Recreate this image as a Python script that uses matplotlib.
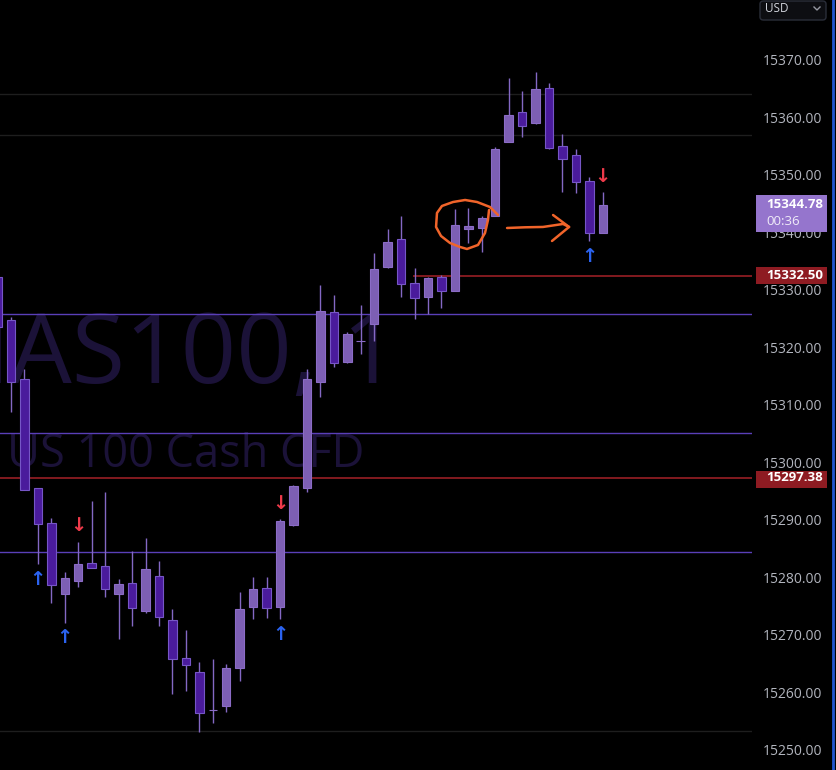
import numpy as np
import matplotlib
matplotlib.use("Agg")
import matplotlib.pyplot as plt
from matplotlib.patches import Rectangle, FancyBboxPatch
from matplotlib.lines import Line2D
import matplotlib.transforms as mtransforms

# 1-minute candles
opens = [15332.3, 15324.8, 15314.5, 15295.6, 15289.5, 15277.1, 15279.4, 15282.5, 15282.0, 15277.1,
         15279.0, 15274.2, 15280.3, 15272.6, 15266.0, 15263.6, 15256.9, 15257.7, 15264.3, 15274.9,
         15278.2, 15274.9, 15289.1, 15295.6, 15314.0, 15326.2, 15317.5, 15321.1, 15324.1, 15334.0,
         15338.9, 15331.2, 15328.8, 15332.3, 15329.8, 15340.6, 15340.8, 15342.9, 15355.7, 15361.0,
         15359.0, 15365.1, 15355.0, 15353.5, 15349.0, 15339.9]
highs = [15334.0, 15325.3, 15316.3, 15295.6, 15290.3, 15281.0, 15286.2, 15293.3, 15294.9, 15279.7,
         15284.6, 15286.9, 15282.9, 15274.5, 15270.9, 15265.3, 15265.8, 15265.0, 15277.5, 15280.1,
         15280.1, 15290.2, 15296.1, 15316.3, 15330.9, 15329.1, 15322.7, 15327.4, 15336.4, 15340.6,
         15342.9, 15333.8, 15332.3, 15332.6, 15344.1, 15344.3, 15342.9, 15354.9, 15366.9, 15364.6,
         15367.9, 15366.0, 15357.1, 15354.5, 15349.7, 15347.0]
lows = [15322.0, 15308.8, 15295.2, 15282.3, 15275.6, 15272.1, 15278.3, 15281.7, 15276.6, 15269.3,
        15271.6, 15273.8, 15271.6, 15259.7, 15260.3, 15253.1, 15254.7, 15256.6, 15262.0, 15272.8,
        15273.0, 15272.8, 15289.0, 15294.9, 15311.4, 15316.6, 15317.3, 15318.9, 15321.1, 15333.8,
        15328.8, 15325.0, 15325.8, 15326.9, 15329.8, 15338.2, 15336.6, 15342.9, 15355.7, 15356.6,
        15358.9, 15354.5, 15347.0, 15346.9, 15338.5, 15339.9]
closes = [15323.6, 15314.0, 15295.2, 15289.3, 15278.7, 15279.9, 15282.3, 15281.7, 15278.0, 15278.9,
          15274.7, 15281.5, 15273.1, 15265.8, 15264.8, 15256.4, 15256.9, 15264.3, 15274.5, 15278.0,
          15274.7, 15289.8, 15295.9, 15314.5, 15326.3, 15317.3, 15322.3, 15321.1, 15333.7, 15338.3,
          15331.0, 15328.6, 15332.1, 15329.8, 15341.3, 15341.1, 15342.5, 15354.5, 15360.4, 15358.5,
          15365.0, 15354.7, 15352.8, 15348.8, 15339.9, 15344.78]

# signal arrows (candle index, price)
buy_idx = [3, 5, 21, 44]
buy_y = [15279.7, 15269.5, 15270.0, 15335.9]
sell_idx = [6, 21, 45]
sell_y = [15289.0, 15292.8, 15349.8]

# drawn levels
purple_levels = [15325.8, 15305.1, 15284.4]
red_levels = [15297.38]
red_ray = 15332.50
red_ray_start = 30.9
grey_levels = [15364.1, 15357.0, 15253.3]

y_ticks = np.arange(15250, 15371, 10)
last_price = "15344.78"
countdown = "00:36"

# hand drawn loop + arrow (candle index, price)
loop_x = [37.21, 36.61, 35.65, 34.76, 33.86, 33.04, 32.67, 32.60, 32.97, 33.64, 34.38, 34.90, 35.72, 36.24, 36.46, 36.54]
loop_y = [15343.04, 15344.43, 15345.30, 15345.65, 15345.30, 15344.61, 15343.39, 15340.96, 15339.39,
          15338.17, 15337.48, 15337.13, 15337.83, 15339.91, 15342.17, 15343.91]
arrow_x = [37.88, 39.2, 40.55, 42.04, 42.49]
arrow_y = [15340.78, 15340.9, 15340.96, 15341.48, 15340.96]
head_x = [41.30, 42.49, 41.22]
head_y = [15343.04, 15340.96, 15338.52]

BG = "#000000"
BULL = "#7d5fb4"
BULL_EDGE = "#8b6cc6"
BEAR = "#4a1b9c"
BEAR_EDGE = "#7656c6"
WICK = "#8468c4"
MARK = "#1b1238"

W, H = 836, 770
XL = (0.182, 56.09)
fig = plt.figure(figsize=(W / 100, H / 100), dpi=100, facecolor=BG)
ax = fig.add_axes([0, 0, 752 / W, 1], facecolor=BG)
ax.set_xlim(*XL)
ax.set_ylim(15246.52, 15380.43)

# watermark
ax.text(398 / 752 * (XL[1] - XL[0]) + XL[0], 15370 - (383 - 60) / 5.75, "NAS100, 1",
        ha="right", va="baseline", fontsize=70, family="Open Sans", color=MARK, zorder=0)
ax.text(7 / 752 * (XL[1] - XL[0]) + XL[0], 15370 - (467 - 60) / 5.75, "US 100 Cash CFD",
        ha="left", va="baseline", fontsize=32.5, family="Open Sans", color=MARK, zorder=0)

for lv in grey_levels:
    ax.axhline(lv, color="#1e1e1e", lw=1, zorder=1)
for lv in purple_levels:
    ax.axhline(lv, color="#5a3fb8", lw=1, zorder=1)
for lv in red_levels:
    ax.axhline(lv, color="#8c1c22", lw=1.3, zorder=1)
ax.hlines(red_ray, red_ray_start, 60, color="#8c1c22", lw=1.3, zorder=1)

o = np.array(opens); c = np.array(closes); hi = np.array(highs); lo = np.array(lows)
idx = np.arange(len(o))
up = c >= o
ax.vlines(idx, lo, hi, color=WICK, lw=1, zorder=2)
bottom = np.minimum(o, c)
height = np.abs(c - o)
ax.bar(idx[up], height[up], bottom=bottom[up], width=0.63, color=BULL, edgecolor=BULL_EDGE, lw=0.8, zorder=3)
ax.bar(idx[~up], height[~up], bottom=bottom[~up], width=0.63, color=BEAR, edgecolor=BEAR_EDGE, lw=0.8, zorder=3)

for x, y in zip(buy_idx, buy_y):
    ax.text(x, y, "↑", ha="center", va="center", fontsize=14, fontweight="bold",
            color="#2b63f0", family="DejaVu Sans", zorder=4)
for x, y in zip(sell_idx, sell_y):
    ax.text(x, y, "↓", ha="center", va="center", fontsize=14, fontweight="bold",
            color="#ee3a4a", family="DejaVu Sans", zorder=4)

ax.plot(loop_x, loop_y, color="#f0642a", lw=1.8, solid_capstyle="round", zorder=5)
ax.plot(arrow_x, arrow_y, color="#f0642a", lw=1.8, solid_capstyle="round", zorder=5)
ax.plot(head_x, head_y, color="#f0642a", lw=1.8, solid_capstyle="round", solid_joinstyle="round", zorder=5)

# right price scale
ax.yaxis.tick_right()
ax.set_yticks(y_ticks)
ax.set_yticklabels([f"{v:.2f}" for v in y_ticks])
ax.tick_params(axis="y", length=0, pad=8, labelsize=10, labelcolor="#b2b5be")
for lab in ax.get_yticklabels():
    lab.set_family("Open Sans")
ax.set_xticks([])
for s in ax.spines.values():
    s.set_visible(False)

tr = mtransforms.blended_transform_factory(ax.transAxes, ax.transData)
bx0, bx1 = 756 / 752, 827 / 752
ppx = 1 / 5.75  # price per pixel


def price_box(top_px, bot_px, color):
    y0 = 15370 - (bot_px - 60) * ppx
    y1 = 15370 - (top_px - 60) * ppx
    r = Rectangle((bx0, y0), bx1 - bx0, y1 - y0, transform=tr, facecolor=color,
                  edgecolor="none", clip_on=False, zorder=6)
    ax.add_patch(r)


def box_text(y, s, weight="bold", color="white"):
    ax.text(766 / 752, y, s, transform=tr, ha="left", va="center", fontsize=9.5,
            fontweight=weight, color=color, family="Open Sans", clip_on=False, zorder=7)


price_box(267, 284, "#8e1b22")
box_text(red_ray, f"{red_ray:.2f}")
price_box(471, 488, "#8e1b22")
box_text(red_levels[0], f"{red_levels[0]:.2f}")
price_box(195, 232, "#9575cd")
box_text(15370 - (205 - 60) * ppx, last_price)
box_text(15370 - (222 - 60) * ppx, countdown, weight="normal", color="#f0ecf8")

# currency dropdown
fig.patches.append(FancyBboxPatch((760 / W, 1 - 20 / H), 66 / W, 19 / H,
                                  boxstyle="round,pad=0,rounding_size=0.004",
                                  transform=fig.transFigure, facecolor="#0d0e12",
                                  edgecolor="#2a2e39", lw=1))
fig.text(765 / W, 1 - 9 / H, "USD", ha="left", va="center", fontsize=8.5,
         color="#d1d4dc", family="Open Sans")
fig.lines.append(Line2D([814 / W, 817 / W, 820 / W], [1 - 7 / H, 1 - 10 / H, 1 - 7 / H],
                        transform=fig.transFigure, color="#9598a1", lw=1))

# blue edge on the right
fig.lines.append(Line2D([833 / W, 833 / W], [0, 1], transform=fig.transFigure,
                        color="#2456d0", lw=2))

fig.savefig("out.png", dpi=100, facecolor=BG)
